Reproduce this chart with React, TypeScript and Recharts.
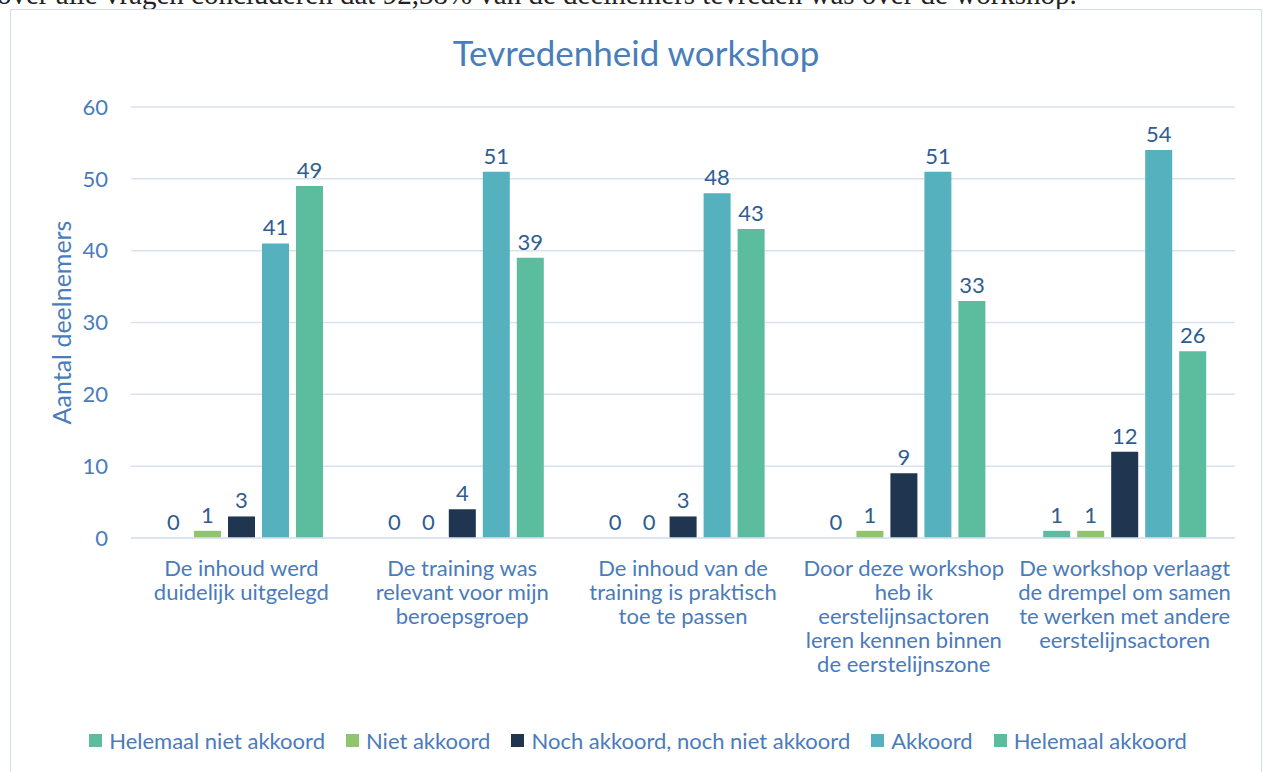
import { Bar, BarChart, CartesianGrid, LabelList, Legend, XAxis, YAxis } from "recharts";

const categories = [
  "De inhoud werd\nduidelijk uitgelegd",
  "De training was\nrelevant voor mijn\nberoepsgroep",
  "De inhoud van de\ntraining is praktisch\ntoe te passen",
  "Door deze workshop\nheb ik\neerstelijnsactoren\nleren kennen binnen\nde eerstelijnszone",
  "De workshop verlaagt\nde drempel om samen\nte werken met andere\neerstelijnsactoren",
];

const helemaalNietAkkoord = [0, 0, 0, 0, 1];
const nietAkkoord = [1, 0, 0, 1, 1];
const nochAkkoord = [3, 4, 3, 9, 12];
const akkoord = [41, 51, 48, 51, 54];
const helemaalAkkoord = [49, 39, 43, 33, 26];

const yTicks = [0, 10, 20, 30, 40, 50, 60];

const series = [
  { key: "hna", name: "Helemaal niet akkoord", color: "#5BBD9D" },
  { key: "na", name: "Niet akkoord", color: "#92C46F" },
  { key: "noch", name: "Noch akkoord, noch niet akkoord", color: "#1F3550" },
  { key: "ak", name: "Akkoord", color: "#55B1BD" },
  { key: "ha", name: "Helemaal akkoord", color: "#5BBD9D" },
];

const data = categories.map((c, i) => ({
  cat: c,
  hna: helemaalNietAkkoord[i],
  na: nietAkkoord[i],
  noch: nochAkkoord[i],
  ak: akkoord[i],
  ha: helemaalAkkoord[i],
}));

const FONT = "Lato, 'Noto Sans', sans-serif";
const TICK = "#4A7BBA";
const LABEL = "#2F5D90";
const FS = 22;

function CategoryTick({ x, y, payload }: any) {
  const lines = String(payload.value).split("\n");
  return (
    <text x={x} y={y} textAnchor="middle" fill={TICK} fontSize={FS} fontFamily={FONT}>
      {lines.map((l, i) => (
        <tspan key={i} x={x} dy={i === 0 ? "0.71em" : 24}>
          {l}
        </tspan>
      ))}
    </text>
  );
}

function LegendBox() {
  return (
    <div style={{ display: "flex", justifyContent: "center", alignItems: "center", gap: 21, height: 30, fontFamily: FONT, fontSize: FS, color: TICK }}>
      {series.map((s) => (
        <div key={s.key} style={{ display: "flex", alignItems: "center", gap: 7 }}>
          <span style={{ width: 13, height: 13, background: s.color, display: "inline-block" }} />
          <span>{s.name}</span>
        </div>
      ))}
    </div>
  );
}

export default function App() {
  return (
    <div style={{ position: "absolute", left: 0, top: 0, width: 1263, height: 772, overflow: "hidden", background: "#fff" }}>
      <div style={{ position: "absolute", left: -3, top: -20, whiteSpace: "nowrap", fontFamily: "'Liberation Serif', 'DejaVu Serif', serif", fontSize: 29, lineHeight: "29px", color: "#222" }}>
        over alle vragen concluderen dat 92,38% van de deelnemers tevreden was over de workshop.
      </div>
      <div style={{ position: "absolute", left: 10, top: 9, width: 1250, height: 780, border: "1.5px solid #D3DEEE", borderBottom: "none" }}>
        <div style={{ position: "absolute", left: 0, top: 21, width: 1250, textAlign: "center", fontFamily: FONT, fontSize: 35, color: "#4A7EBB" }}>
          Tevredenheid workshop
        </div>
        <BarChart width={1250} height={762} data={data} margin={{ top: 97, right: 26, left: 0, bottom: 17 }} barSize={27} barGap={7}>
          <CartesianGrid vertical={false} stroke="#D9E2F0" strokeWidth={1.5} />
          <XAxis
            dataKey="cat"
            interval={0}
            height={187}
            tick={<CategoryTick />}
            tickLine={false}
            tickSize={0}
            tickMargin={22}
            axisLine={{ stroke: "#D9E2F0", strokeWidth: 1.5 }}
          />
          <YAxis
            width={120}
            domain={[0, 60]}
            ticks={yTicks}
            tickLine={false}
            axisLine={false}
            tickSize={6}
            tickMargin={17}
            tick={{ fill: TICK, fontSize: FS, fontFamily: FONT }}
            label={{ value: "Aantal deelnemers", angle: -90, position: "center", dx: -9, fill: TICK, fontSize: 25, fontFamily: FONT }}
          />
          <Legend verticalAlign="bottom" content={<LegendBox />} wrapperStyle={{ left: 2, width: 1250 }} />
          {series.map((s) => (
            <Bar key={s.key} dataKey={s.key} name={s.name} fill={s.color} minPointSize={0.01} isAnimationActive={false}>
              <LabelList dataKey={s.key} position="top" offset={8} fill={LABEL} fontSize={FS} fontFamily={FONT} />
            </Bar>
          ))}
        </BarChart>
      </div>
    </div>
  );
}
